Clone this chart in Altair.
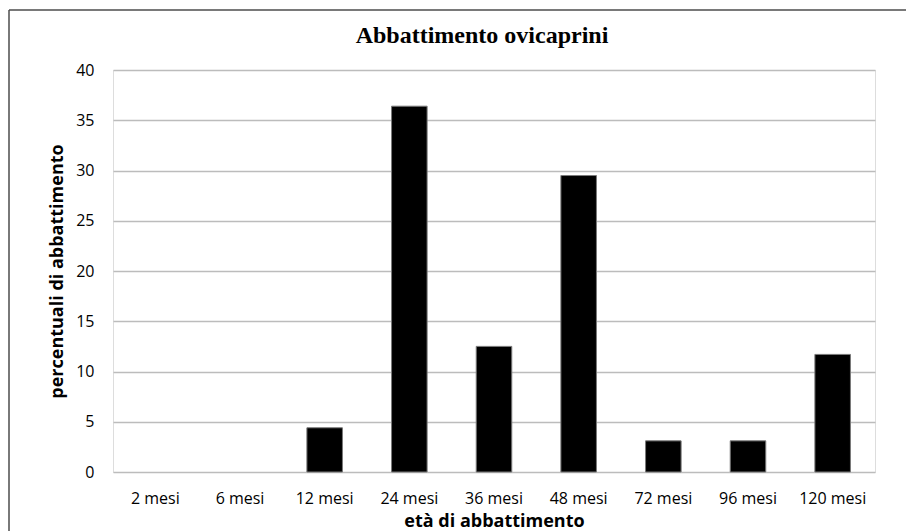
import altair as alt
import pandas as pd

# Slaughter age classes and the share of animals killed in each class
categories = ["2 mesi", "6 mesi", "12 mesi", "24 mesi", "36 mesi",
              "48 mesi", "72 mesi", "96 mesi", "120 mesi"]
percentuali = [0, 0, 4.4, 36.4, 12.5, 29.5, 3.1, 3.1, 11.7]
y_ticks = [0, 5, 10, 15, 20, 25, 30, 35, 40]
titolo = "Abbattimento ovicaprini"

df = pd.DataFrame({"eta": categories, "perc": percentuali})

PLOT_W, PLOT_H = 762, 402
LEFT, TOP, RIGHT, BOTTOM = 113, 70, 31, 59
SANS = "Open Sans"

bars = alt.Chart(df).mark_bar(
    color="black", stroke="#7a7a7a", strokeWidth=1
).encode(
    x=alt.X(
        "eta:N",
        sort=categories,
        scale=alt.Scale(paddingInner=0.58, paddingOuter=0.29),
        axis=alt.Axis(
            title="età di abbattimento",
            labelAngle=0,
            ticks=False,
            domain=False,
            labelPadding=18,
            labelFont=SANS,
            labelFontSize=16,
            labelColor="#000000",
            titleFont=SANS,
            titleFontSize=18,
            titleFontWeight="bold",
            titleColor="#000000",
            titlePadding=6,
        ),
    ),
    y=alt.Y(
        "perc:Q",
        scale=alt.Scale(domain=[0, 40], nice=False),
        axis=alt.Axis(
            title="percentuali di abbattimento",
            values=y_ticks,
            ticks=False,
            domain=False,
            grid=True,
            gridColor="#bcbcbc",
            gridWidth=1.5,
            labelPadding=19,
            labelFont=SANS,
            labelFontSize=16,
            labelColor="#000000",
            titleFont=SANS,
            titleFontSize=18,
            titleFontWeight="bold",
            titleColor="#000000",
            titlePadding=9,
        ),
    ),
    # empty classes get no outline
    strokeOpacity=alt.condition(alt.datum.perc > 0, alt.value(1), alt.value(0)),
)

# Chart heading above the plot
heading = alt.Chart(pd.DataFrame({"t": [titolo]})).mark_text(
    font="Liberation Serif", fontSize=24, fontWeight="bold", color="#000000",
    align="center", baseline="alphabetic",
).encode(text="t:N", x=alt.value(482 - LEFT), y=alt.value(43 - TOP))

# Outer frame of the chart area (left and top edges)
frame_data = pd.DataFrame({"k": [0]})
frame_left = alt.Chart(frame_data).mark_rule(color="#4d4d4d", strokeWidth=1.5).encode(
    x=alt.value(9 - LEFT), y=alt.value(10 - TOP), y2=alt.value(PLOT_H + BOTTOM + 5)
)
frame_top = alt.Chart(frame_data).mark_rule(color="#4d4d4d", strokeWidth=1.5).encode(
    x=alt.value(9 - LEFT), x2=alt.value(PLOT_W + RIGHT + 5), y=alt.value(10 - TOP)
)

chart = alt.layer(bars, heading, frame_left, frame_top).properties(
    width=PLOT_W,
    height=PLOT_H,
    padding={"left": LEFT, "top": TOP, "right": RIGHT, "bottom": BOTTOM},
    autosize=alt.AutoSizeParams(type="none"),
).configure_view(stroke=None).configure(background="white")

chart.save("out.html", embed_options={"renderer": "svg", "actions": False})
